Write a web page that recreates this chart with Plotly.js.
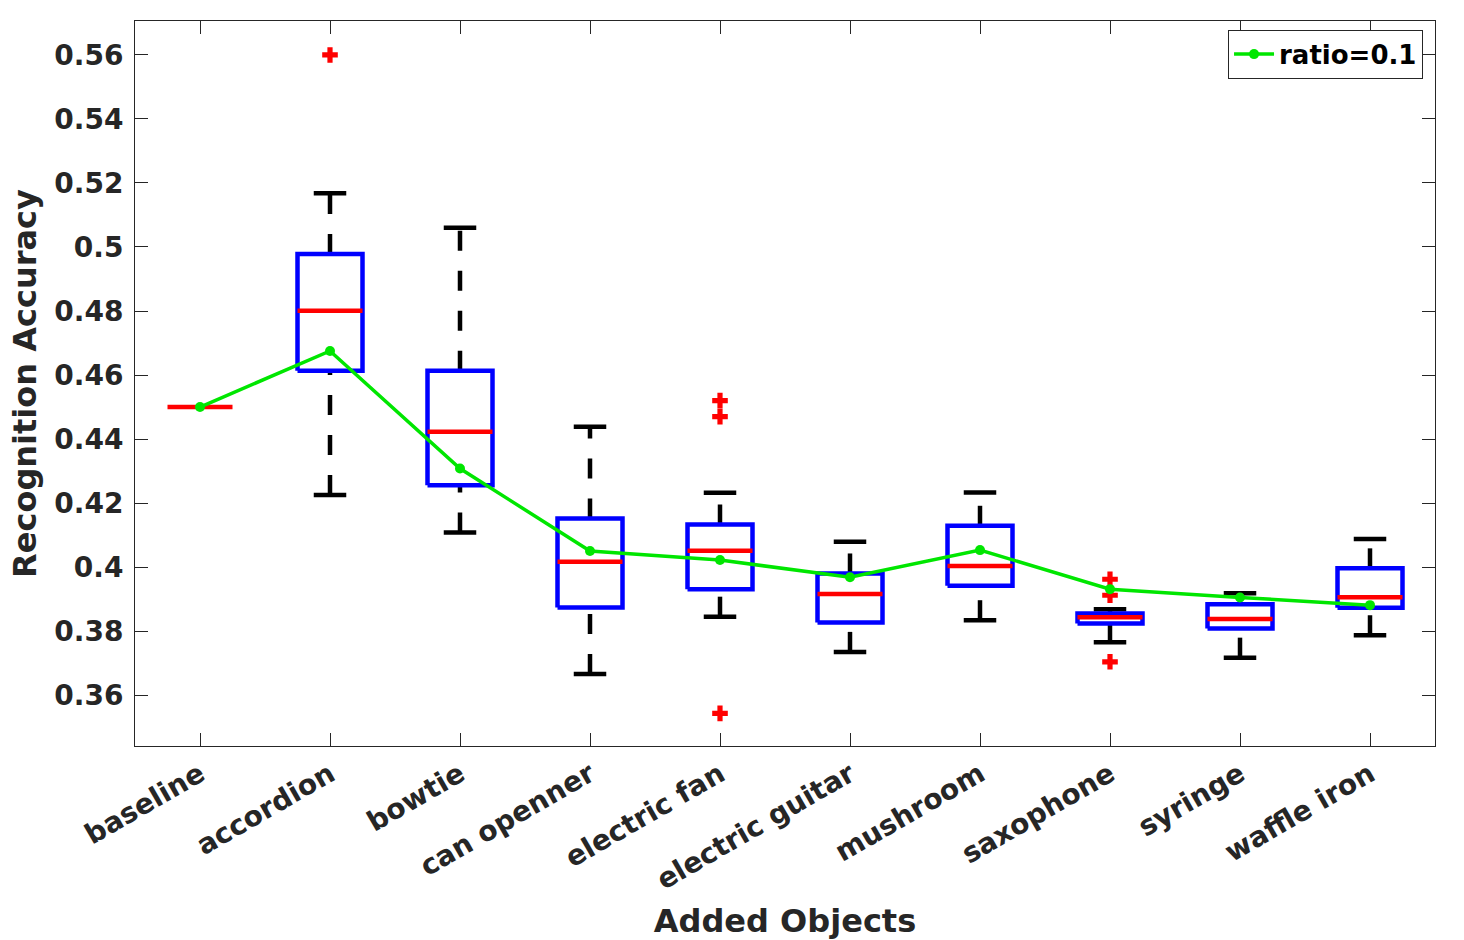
<!DOCTYPE html>
<html>
<head>
<meta charset="utf-8">
<script src="https://cdn.plot.ly/plotly-3.0.1.min.js"></script>
<style>
  html, body { margin: 0; padding: 0; background: #fff; }
  #chart { width: 1464px; height: 940px; }
</style>
</head>
<body>
<div id="chart"></div>
<script>
'use strict';

const categories = ['baseline', 'accordion', 'bowtie', 'can openner', 'electric fan',
    'electric guitar', 'mushroom', 'saxophone', 'syringe', 'waffle iron'];
const lower_whisker = [0.45, 0.4225, 0.4108, 0.3666, 0.3845, 0.3735, 0.3834, 0.3765, 0.3717, 0.3787];
const q1 = [0.45, 0.4613, 0.4256, 0.3874, 0.3931, 0.3827, 0.3942, 0.3824, 0.3808, 0.3873];
const median = [0.45, 0.4801, 0.4423, 0.4017, 0.4051, 0.3916, 0.4003, 0.3843, 0.3838, 0.3906];
const q3 = [0.45, 0.4978, 0.4613, 0.4152, 0.4133, 0.3980, 0.4129, 0.3855, 0.3884, 0.3996];
const upper_whisker = [0.45, 0.5168, 0.5060, 0.4438, 0.4232, 0.4079, 0.4233, 0.3868, 0.3918, 0.4088];
const outliers = [[], [0.56], [], [], [0.452, 0.447, 0.3543], [], [], [0.3962, 0.3912, 0.3704], [], []];
const ratio_01 = [0.45, 0.4675, 0.4308, 0.4050, 0.4022, 0.3968, 0.4053, 0.3931, 0.3905, 0.3881];
const y_ticks = [0.36, 0.38, 0.40, 0.42, 0.44, 0.46, 0.48, 0.50, 0.52, 0.54, 0.56];
const y_tick_text = ['0.36', '0.38', '0.4', '0.42', '0.44', '0.46', '0.48', '0.5', '0.52', '0.54', '0.56'];

const pos = categories.map((_, i) => i + 1);
const half_box = 0.25;
const half_cap = 0.125;

// build segment lists (null separated) for each part of the boxplot
let wx = [], wy = [], cx = [], cy = [], bx = [], by = [], mx = [], my = [], ox = [], oy = [];
pos.forEach((p, i) => {
    if (upper_whisker[i] > lower_whisker[i]) {
        // whiskers are drawn bottom to top, like matlab does
        wx.push(p, p, null, p, p, null);
        wy.push(lower_whisker[i], q1[i], null, q3[i], upper_whisker[i], null);
        cx.push(p - half_cap, p + half_cap, null, p - half_cap, p + half_cap, null);
        cy.push(lower_whisker[i], lower_whisker[i], null, upper_whisker[i], upper_whisker[i], null);
    }
    if (q3[i] > q1[i]) {
        bx.push(p - half_box, p + half_box, p + half_box, p - half_box, p - half_box, null);
        by.push(q1[i], q1[i], q3[i], q3[i], q1[i], null);
    }
    mx.push(p - half_box, p + half_box, null);
    my.push(median[i], median[i], null);
    for (let o of outliers[i]) {
        ox.push(p);
        oy.push(o);
    }
});

const data = [
    { x: wx, y: wy, mode: 'lines', line: { color: '#000', width: 4.5, dash: '20px,20px' }, showlegend: false, hoverinfo: 'skip' },
    { x: cx, y: cy, mode: 'lines', line: { color: '#000', width: 4.5 }, showlegend: false, hoverinfo: 'skip' },
    { x: bx, y: by, mode: 'lines', line: { color: '#0000ff', width: 4.5 }, showlegend: false, hoverinfo: 'skip' },
    { x: mx, y: my, mode: 'lines', line: { color: '#ff0000', width: 4.5 }, showlegend: false, hoverinfo: 'skip' },
    { x: ox, y: oy, mode: 'markers', marker: { symbol: 'cross', size: 13, color: '#ff0000' }, showlegend: false, hoverinfo: 'skip' },
    {
        x: pos, y: ratio_01, mode: 'lines+markers', name: 'ratio=0.1',
        line: { color: '#00e600', width: 3.5 },
        marker: { color: '#00e600', size: 10 },
    },
];

const font_bold = { family: 'DejaVu Sans', size: 28, color: '#262626', weight: 'bold' };

const layout = {
    width: 1464,
    height: 940,
    margin: { l: 135, r: 29, t: 21, b: 194 },
    paper_bgcolor: '#fff',
    plot_bgcolor: '#fff',
    font: font_bold,
    showlegend: true,
    legend: {
        x: 0.9908, xanchor: 'right',
        y: 0.988, yanchor: 'top',
        bordercolor: '#262626', borderwidth: 1, bgcolor: '#fff',
        font: { family: 'DejaVu Sans', size: 26, color: '#000', weight: 'bold' },
        itemwidth: 40,
    },
    xaxis: {
        range: [0.5, 10.5],
        tickvals: pos,
        ticktext: categories,
        tickangle: -30,
        ticks: 'inside', ticklen: 13, tickcolor: '#262626',
        showline: true, linecolor: '#262626', linewidth: 1, mirror: 'ticks',
        showgrid: false, zeroline: false,
        tickfont: font_bold,
        title: { text: 'Added Objects', font: { family: 'DejaVu Sans', size: 32, color: '#262626', weight: 'bold' }, standoff: 22 },
    },
    yaxis: {
        range: [0.3441, 0.5706],
        tickvals: y_ticks,
        ticktext: y_tick_text,
        ticks: 'inside', ticklen: 13, tickcolor: '#262626',
        showline: true, linecolor: '#262626', linewidth: 1, mirror: 'ticks',
        showgrid: false, zeroline: false,
        tickfont: font_bold,
        ticklabelstandoff: 5,
        title: { text: 'Recognition Accuracy', font: { family: 'DejaVu Sans', size: 32, color: '#262626', weight: 'bold' }, standoff: 8 },
    },
};

Plotly.newPlot('chart', data, layout, { staticPlot: true });
</script>
</body>
</html>
